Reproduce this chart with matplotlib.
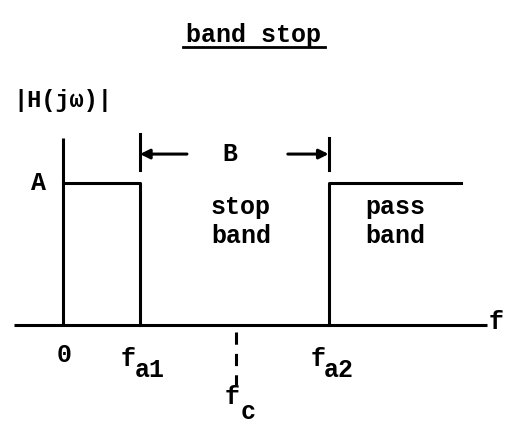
import matplotlib
matplotlib.use("Agg")
import matplotlib.pyplot as plt

# ---- data (frequency positions in units of f_a1, amplitude in units of A) ----
freq_marks = [0.0, 1.0, 2.25, 3.45]          # 0, f_a1, f_c, f_a2
freq_labels = ["0", "f", "f", "f"]
freq_subs = ["", "a1", "c", "a2"]
amplitude_A = 1.0
passband_end = 5.17
axis_x_range = [-0.64, 5.51]
axis_y_top = 1.32

FONT = "Liberation Mono"
FS = 18

fig = plt.figure(figsize=(5.10, 4.28), dpi=100)
ax = fig.add_axes([0, 0, 1, 1])
ax.set_xlim(-0.818, 5.805)
ax.set_ylim(-0.725, 2.289)
ax.axis("off")

lw = 2.2
f0, fa1, fc, fa2 = freq_marks

# axes
ax.plot(axis_x_range, [0, 0], color="black", lw=lw, solid_capstyle="butt")
ax.plot([0, 0], [0, axis_y_top], color="black", lw=lw, solid_capstyle="butt")

# response: pass band below f_a1, stop band, pass band above f_a2
ax.plot([f0, fa1, fa1], [amplitude_A, amplitude_A, 0], color="black", lw=lw)
ax.plot([fa2, fa2, passband_end], [0, amplitude_A, amplitude_A], color="black", lw=lw)

# B brackets
ax.plot([fa1, fa1], [1.09, 1.345], color="black", lw=lw)
ax.plot([fa2, fa2], [1.09, 1.32], color="black", lw=lw)
yB = 1.204
ax.annotate("", xy=(fa1, yB), xytext=(1.61, yB),
            arrowprops=dict(arrowstyle="-|>", color="black", lw=lw,
                            mutation_scale=14, shrinkA=0, shrinkB=0))
ax.annotate("", xy=(fa2, yB), xytext=(2.92, yB),
            arrowprops=dict(arrowstyle="-|>", color="black", lw=lw,
                            mutation_scale=14, shrinkA=0, shrinkB=0))
tk = dict(fontfamily=FONT, fontsize=FS, fontweight="bold", color="black")
ax.text(2.17, yB, "B", ha="center", va="center", **tk)

# f_c dashed marker
ax.plot([fc, fc], [-0.05, -0.42], color="black", lw=lw, linestyle=(0, (4, 3)))

# labels
ax.text(-0.32, amplitude_A, "A", ha="center", va="center", **tk)
ax.text(2.31, 0.73, "stop\nband", ha="center", va="center", linespacing=1.3, **tk)
ax.text(4.32, 0.73, "pass\nband", ha="center", va="center", linespacing=1.3, **tk)
ax.text(5.62, 0.02, "f", ha="center", va="center", **tk)
ax.text(-0.64, 1.58, "|H(jω)|", ha="left", va="center",
        fontfamily=[FONT, "DejaVu Sans Mono"], fontsize=17, fontweight="bold")

# tick labels
ax.text(f0 + 0.02, -0.21, "0", ha="center", va="center", **tk)
ax.text(fa1 - 0.16, -0.24, "f", ha="center", va="center", **tk)
ax.text(fa1 + 0.13, -0.32, "a1", ha="center", va="center", **tk)
ax.text(fa2 - 0.14, -0.24, "f", ha="center", va="center", **tk)
ax.text(fa2 + 0.13, -0.32, "a2", ha="center", va="center", **tk)
ax.text(fc - 0.06, -0.51, "f", ha="center", va="center", **tk)
ax.text(fc + 0.15, -0.61, "c", ha="center", va="center", **tk)

# title with underline
ax.text(2.48, 2.045, "band stop", ha="center", va="center", **tk)
ax.plot([1.56, 3.40], [1.955, 1.955], color="black", lw=2.0)

fig.savefig("out.png", dpi=100)
